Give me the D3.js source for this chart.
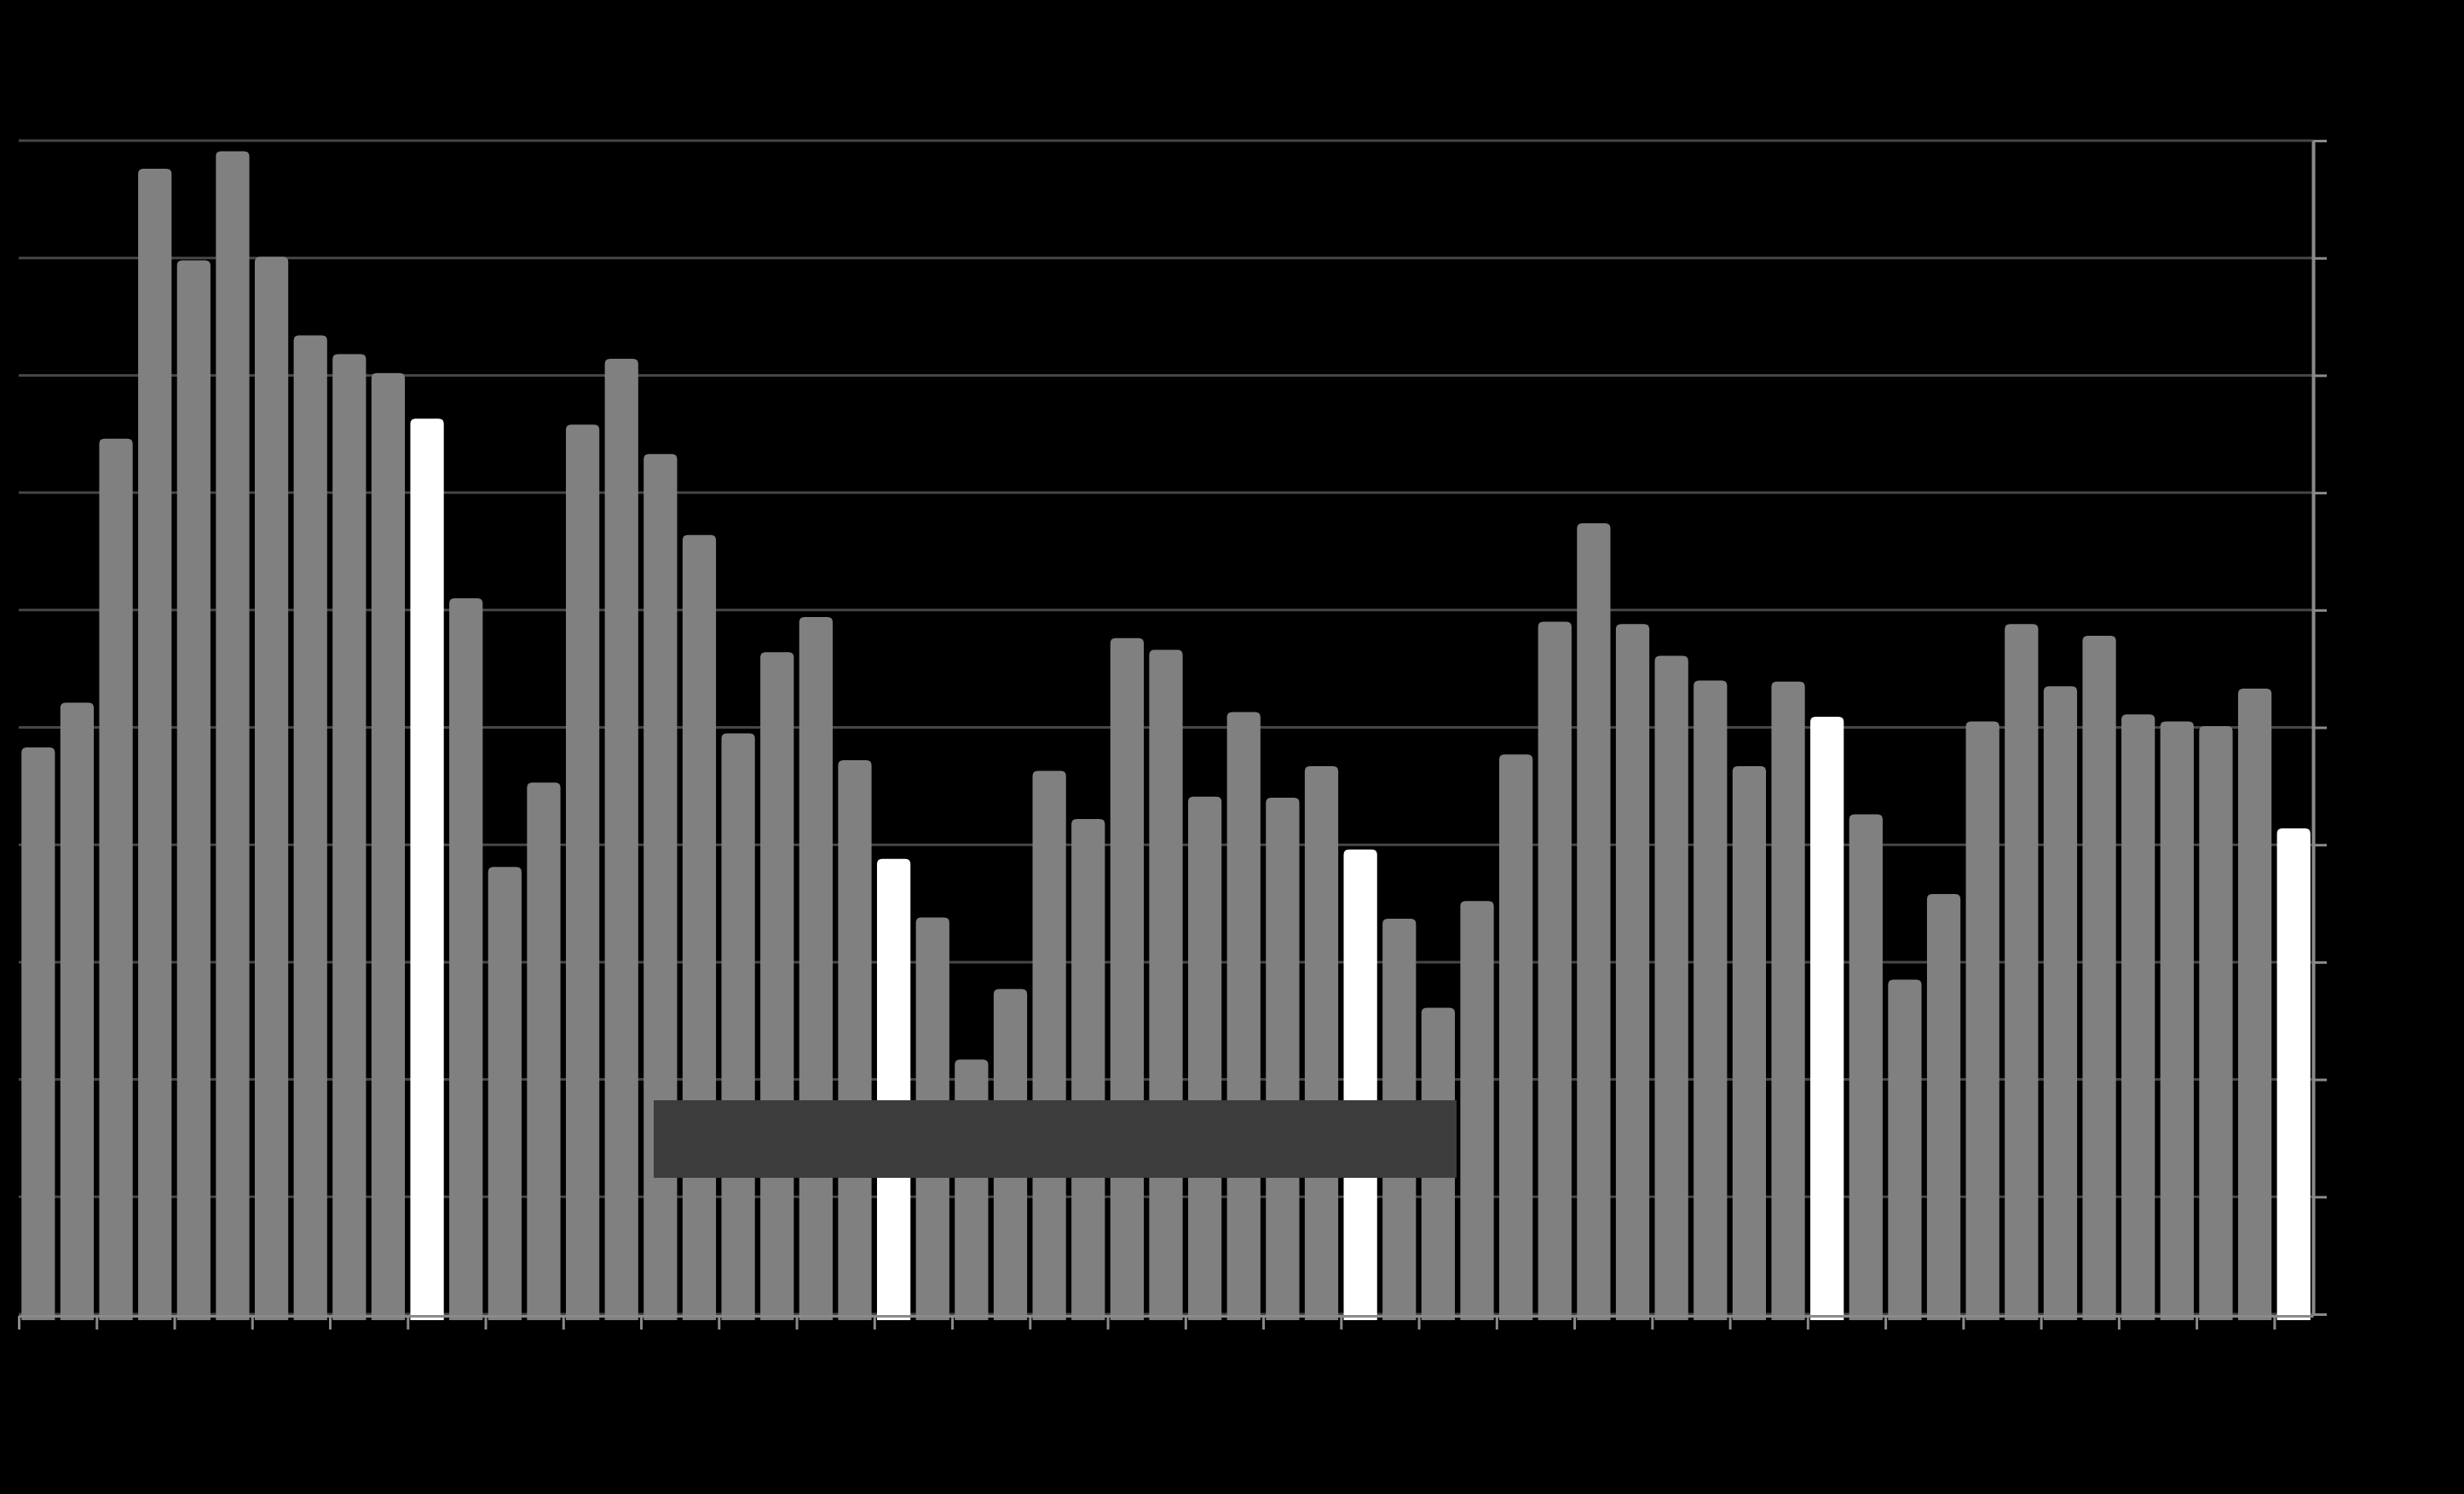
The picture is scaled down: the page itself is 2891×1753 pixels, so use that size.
<!DOCTYPE html>
<html lang="en">
<head>
    <meta charset="UTF-8">
    <title>Bars</title>
    <script src="https://d3js.org/d3.v7.min.js"></script>
    <style>
        body {
            margin: 0;
            padding: 0;
            background: #000;
        }
    </style>
</head>
<body>
<svg id="chart" width="2891" height="1753" xmlns="http://www.w3.org/2000/svg"></svg>
<script>
    // one value per bar, 0..100 (gridline every 10)
    var categories = d3.range(1, 60).map(String);
    var values = [
        48.3, 52.1, 74.6, 97.6, 89.8, 99.1, 90.1, 83.4, 81.8, 80.2,
        76.3, 61.0, 38.1, 45.3, 75.8, 81.4, 73.3, 66.4, 49.5, 56.4,
        59.4, 47.2, 38.8, 33.8, 21.7, 27.7, 46.3, 42.2, 57.6, 56.6,
        44.1, 51.3, 44.0, 46.7, 39.6, 33.7, 26.1, 35.2, 47.7, 59.0,
        67.4, 58.8, 56.1, 54.0, 46.7, 53.9, 50.9, 42.6, 28.5, 35.8,
        50.5, 58.8, 53.5, 57.8, 51.1, 50.5, 50.1, 53.3, 41.4
    ];
    // bars drawn in white
    var highlighted = ['11', '23', '35', '47', '59'];
    var yTicks = d3.range(0, 101, 10);

    (function () {
        var svg = d3.select('#chart');
        var plotLeft = 22, plotRight = 2714, plotTop = 165, baseline = 1542;

        svg.append('rect').attr('width', 2891).attr('height', 1753).attr('fill', '#000');

        var x = d3.scaleBand().domain(categories).range([plotLeft, plotRight]).paddingInner(0.14).paddingOuter(0.07);
        var xTick = d3.scaleLinear().domain([0, categories.length]).range([plotLeft, plotRight]);
        var y = d3.scaleLinear().domain([0, 100]).range([baseline, plotTop]);

        // gridlines
        svg.append('g')
            .selectAll('line')
            .data(yTicks)
            .enter().append('line')
            .attr('x1', plotLeft)
            .attr('x2', plotRight)
            .attr('y1', function (d) { return y(d); })
            .attr('y2', function (d) { return y(d); })
            .attr('stroke', '#464646')
            .attr('stroke-width', 3);

        // bars with rounded tops
        var r = 6;
        svg.append('g')
            .selectAll('path')
            .data(values)
            .enter().append('path')
            .attr('fill', function (d, i) {
                return highlighted.indexOf(categories[i]) !== -1 ? '#ffffff' : '#808080';
            })
            .attr('d', function (d, i) {
                var x0 = x(categories[i]), w = x.bandwidth(), y0 = y(d), y1 = baseline + 7;
                return 'M' + x0 + ',' + y1 +
                    'V' + (y0 + r) +
                    'Q' + x0 + ',' + y0 + ' ' + (x0 + r) + ',' + y0 +
                    'H' + (x0 + w - r) +
                    'Q' + (x0 + w) + ',' + y0 + ' ' + (x0 + w) + ',' + (y0 + r) +
                    'V' + y1 + 'Z';
            });

        // bottom axis: ticks between every second bar, no labels
        var xAxis = svg.append('g')
            .attr('transform', 'translate(0,' + (baseline + 2) + ')')
            .call(d3.axisBottom(xTick)
                .tickValues(d3.range(0, categories.length, 2))
                .tickSize(16)
                .tickSizeOuter(0)
                .tickFormat(''));
        xAxis.select('.domain').attr('stroke', '#8a8a8a').attr('stroke-width', 3);
        xAxis.selectAll('.tick line').attr('stroke', '#8a8a8a').attr('stroke-width', 3);

        // right axis
        var yAxis = svg.append('g')
            .attr('transform', 'translate(' + plotRight + ',0)')
            .call(d3.axisRight(y)
                .tickValues(yTicks)
                .tickSize(16)
                .tickSizeOuter(0)
                .tickFormat(''));
        yAxis.select('.domain').attr('stroke', '#8a8a8a').attr('stroke-width', 4);
        yAxis.selectAll('.tick line').attr('stroke', '#8a8a8a').attr('stroke-width', 3);

        // legend box
        svg.append('rect')
            .attr('x', 767)
            .attr('y', 1291)
            .attr('width', 942)
            .attr('height', 91)
            .attr('fill', '#3c3c3c');
    })();
</script>
</body>
</html>
